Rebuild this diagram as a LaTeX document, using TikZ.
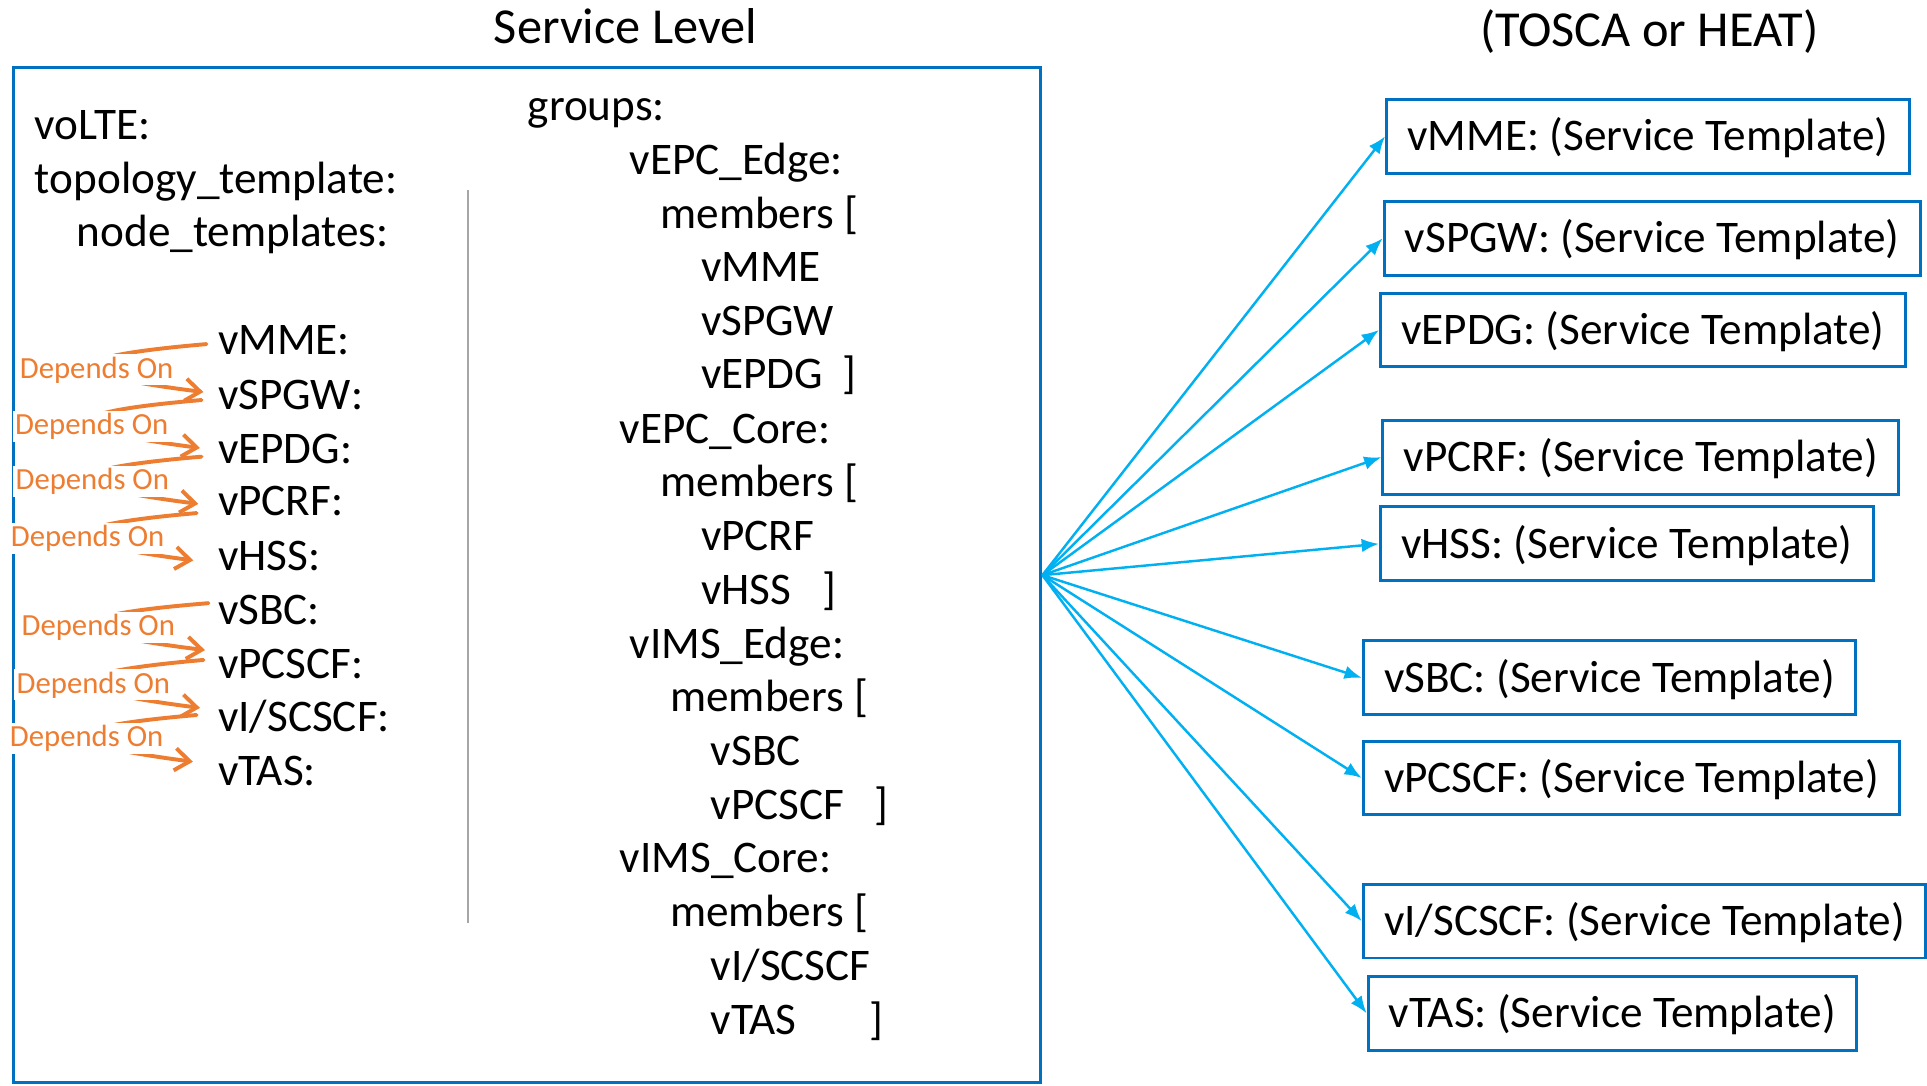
\documentclass[tikz,border=0pt]{standalone}
\usepackage{fontspec}
\setmainfont{Carlito}
\usetikzlibrary{arrows.meta,calc}
\definecolor{boxblue}{RGB}{0,112,192}
\definecolor{linkblue}{RGB}{0,176,240}
\definecolor{deporange}{RGB}{237,125,49}
\definecolor{sepgray}{RGB}{166,166,166}
\begin{document}
\begin{tikzpicture}[x=0.5pt,y=-0.5pt,
  txt/.style={anchor=west,inner sep=0pt,text height=11.85pt,text depth=0pt,font=\fontsize{18.4}{22}\selectfont},
  title/.style={anchor=center,inner sep=0pt,text height=13.2pt,text depth=0pt,font=\fontsize{20.5}{24}\selectfont},
  tbox/.style={draw=boxblue,line width=1.2pt,anchor=west,inner xsep=8.5pt,inner ysep=0pt,minimum height=30pt,text height=15.3pt,text depth=3.7pt,font=\fontsize{18.4}{22}\selectfont},
  mainbox/.style={draw=boxblue,line width=1.2pt,minimum width=418pt,minimum height=413pt,inner sep=0pt},
  link/.style={draw=linkblue,line width=1pt,-{Latex[length=7pt,width=5.5pt]}},
  dep/.style={draw=deporange,line width=1.6pt,line cap=round,-{Straight Barb[length=6pt,width=9pt,line width=1.6pt]}},
  deplab/.style={anchor=base,fill=white,inner sep=1pt,text=deporange,font=\fontsize{12.5}{14}\selectfont}]
\useasboundingbox (0,0) rectangle (1568,883);

% titles
\node[title] (t1) at (509,22) {Service Level};
\node[title] (t2) at (1342,25) {(TOSCA or HEAT)};

% main box
\node[mainbox] (svc) at (429,468) {};
\draw[sepgray,line width=0.9pt] (381,155) coordinate (sepA) -- (381,751) coordinate (sepB);

% left column
\node[txt] (voLTE) at (28,102) {voLTE:};
\node[txt] (topo) at (28,146) {topology\_template:};
\node[txt] (nodet) at (62,189) {node\_templates:};
\node[txt] (L1) at (177,277) {vMME:};
\node[txt] (L2) at (177,321) {vSPGW:};
\node[txt] (L3) at (177,365) {vEPDG:};
\node[txt] (L4) at (177,408) {vPCRF:};
\node[txt] (L5) at (177,452) {vHSS:};
\node[txt] (L6) at (177,496) {vSBC:};
\node[txt] (L7) at (177,540) {vPCSCF:};
\node[txt] (L8) at (177,583) {vI/SCSCF:};
\node[txt] (L9) at (177,627) {vTAS:};

% groups column
\node[txt] (groups) at (429,86) {groups:};
\node[txt] (g1) at (512,130) {vEPC\_Edge:};
\node[txt] (g1m) at (537,174) {members [};
\node[txt] (g1a) at (570,217) {vMME};
\node[txt] (g1b) at (570,261) {vSPGW};
\node[txt] (g1c) at (570,304) {vEPDG};
\node[txt] (g1e) at (685,304) {]};
\node[txt] (g2) at (504,349) {vEPC\_Core:};
\node[txt] (g2m) at (537,392) {members [};
\node[txt] (g2a) at (570,436) {vPCRF};
\node[txt] (g2b) at (570,480) {vHSS};
\node[txt] (g2e) at (669,480) {]};
\node[txt] (g3) at (512,524) {vIMS\_Edge:};
\node[txt] (g3m) at (545,567) {members [};
\node[txt] (g3a) at (578,611) {vSBC};
\node[txt] (g3b) at (578,655) {vPCSCF};
\node[txt] (g3e) at (711,655) {]};
\node[txt] (g4) at (504,698) {vIMS\_Core:};
\node[txt] (g4m) at (545,742) {members [};
\node[txt] (g4a) at (578,786) {vI/SCSCF};
\node[txt] (g4b) at (578,830) {vTAS};
\node[txt] (g4e) at (707,830) {]};

% right boxes
\node[tbox] (R1) at (1127,111) {vMME: (Service Template)};
\node[tbox] (R2) at (1125,194) {vSPGW: (Service Template)};
\node[tbox] (R3) at (1122,268.5) {vEPDG: (Service Template)};
\node[tbox] (R4) at (1124,372) {vPCRF: (Service Template)};
\node[tbox] (R5) at (1122,442.5) {vHSS: (Service Template)};
\node[tbox] (R6) at (1108,551.5) {vSBC: (Service Template)};
\node[tbox] (R7) at (1108,633) {vPCSCF: (Service Template)};
\node[tbox] (R8) at (1108,749.5) {vI/SCSCF: (Service Template)};
\node[tbox] (R9) at (1112,824.5) {vTAS: (Service Template)};

% blue links
\foreach \r in {R1,R2,R3,R4,R5,R6,R7,R8,R9}
  \draw[link] (svc.east) -- (\r.west);

% depends-on arrows
\coordinate (s1) at ([shift={(-9,3)}]L1.west);
\coordinate (e1) at ([shift={(-11.5,-2)}]L2.west);
\coordinate (c1) at (-18,296);
\coordinate (s2) at ([shift={(-13,4.5)}]L2.west);
\coordinate (e2) at ([shift={(-14.3,-0.5)}]L3.west);
\coordinate (c2) at (-18,341);
\coordinate (s3) at ([shift={(-13,6.6)}]L3.west);
\coordinate (e3) at ([shift={(-15.6,2)}]L4.west);
\coordinate (c3) at (-18,387);
\coordinate (s4) at ([shift={(-17,9.5)}]L4.west);
\coordinate (e4) at ([shift={(-19.7,4)}]L5.west);
\coordinate (c4) at (-18,433);
\coordinate (s5) at ([shift={(-7.4,-5.2)}]L6.west);
\coordinate (e5) at ([shift={(-10.2,-11)}]L7.west);
\coordinate (c5) at (-18,506);
\coordinate (s6) at ([shift={(-11.4,-3)}]L7.west);
\coordinate (e6) at ([shift={(-14.3,-7)}]L8.west);
\coordinate (c6) at (-18,553);
\coordinate (s7) at ([shift={(-17,-1.2)}]L8.west);
\coordinate (e7) at ([shift={(-20,-7.2)}]L9.west);
\coordinate (c7) at (-18,597);
\foreach \i in {1,...,7}
  \draw[dep] (s\i) .. controls ($(s\i)!0.667!(c\i)$) and ($(e\i)!0.667!(c\i)$) .. (e\i);

\node[deplab] (d1) at (78.6,307.6) {Depends On};
\node[deplab] (d2) at (74.6,353.7) {Depends On};
\node[deplab] (d3) at (75.1,398.5) {Depends On};
\node[deplab] (d4) at (71.3,444.6) {Depends On};
\node[deplab] (d5) at (80,517.3) {Depends On};
\node[deplab] (d6) at (76,563.9) {Depends On};
\node[deplab] (d7) at (70.5,607.3) {Depends On};
\end{tikzpicture}
\end{document}
